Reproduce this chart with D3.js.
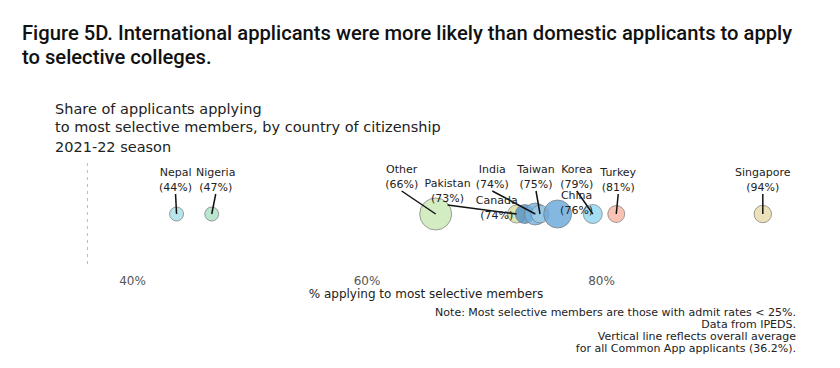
<!DOCTYPE html>
<html>
<head>
<meta charset="utf-8">
<script src="https://cdn.jsdelivr.net/npm/d3@7"></script>
<style>
  body { margin: 0; background: #fff; }
  text { font-family: "DejaVu Sans", sans-serif; fill: #222; }
  .title { font-family: Roboto, sans-serif; font-weight: 500; fill: #111; }
</style>
</head>
<body>
<div id="chart"></div>
<script>
// data
const countries = ['Nepal', 'Nigeria', 'Other', 'Pakistan', 'Canada', 'India', 'Taiwan', 'China', 'Korea', 'Turkey', 'Singapore'];
const shares = [43.8, 46.8, 65.9, 72.8, 73.5, 74.4, 74.8, 76.3, 79.3, 81.3, 93.8];
const sizes = [4.9, 4.9, 25.6, 8.1, 9.0, 12.1, 8.1, 19.6, 9.0, 7.2, 7.6];
const ticks = [40, 60, 80];
const overallAvg = 36.2;

const colors = ['#a6dfe7', '#a9dfc3', '#c9e7b3', '#d6dfa0', '#4f90c9', '#72b1de', '#9acbe6', '#66a6d9', '#8fd6ef', '#f8b3a3', '#e7dba9'];
// label placement (px) relative to each circle
const labelDx = [-1, 4, -34, -69, -28, -43, -4, 19, -16, 2, 0];
const labelDy = [-38, -38, -41, -27, -10, -41, -41, -15, -41, -38, -38];
const leader = [true, true, true, true, false, true, true, false, true, true, true];

const svgWidth = 840, svgHeight = 368;
const svg = d3.select('#chart').append('svg')
  .attr('width', svgWidth)
  .attr('height', svgHeight);

svg.append('text').attr('class', 'title').attr('x', 22).attr('y', 40)
  .style('font-size', '20.2px')
  .text('Figure 5D. International applicants were more likely than domestic applicants to apply');
svg.append('text').attr('class', 'title').attr('x', 22).attr('y', 64)
  .style('font-size', '20.2px')
  .text('to selective colleges.');

svg.append('text').attr('x', 55).attr('y', 114).style('font-size', '14.5px').text('Share of applicants applying');
svg.append('text').attr('x', 55).attr('y', 132).style('font-size', '14.5px').text('to most selective members, by country of citizenship');
svg.append('text').attr('x', 55).attr('y', 152).style('font-size', '14.5px').text('2021-22 season');

const x = d3.scaleLinear().domain([40, 80]).range([132, 601]);
const r = d3.scaleSqrt().domain([0, d3.max(sizes)]).range([0, 16]);
const cy = 214;

// average line
svg.append('line')
  .attr('x1', x(overallAvg)).attr('x2', x(overallAvg))
  .attr('y1', 163).attr('y2', 268)
  .attr('stroke', '#bbb').attr('stroke-width', 1)
  .attr('stroke-dasharray', '3,4');

// axis
const xAxis = svg.append('g').attr('transform', 'translate(0,268)')
  .call(d3.axisBottom(x).tickValues(ticks).tickFormat(d => d + '%').tickSize(0).tickPadding(8));
xAxis.select('.domain').remove();
xAxis.selectAll('text').style('font-family', '"DejaVu Sans", sans-serif')
  .style('font-size', '12px').style('fill', '#555');

svg.append('text').attr('x', 426).attr('y', 298).attr('text-anchor', 'middle')
  .style('font-size', '12px').text('% applying to most selective members');

const data = countries.map((c, i) => ({
  c, v: shares[i], s: sizes[i], col: colors[i], dx: labelDx[i], dy: labelDy[i], line: leader[i]
}));

// circles
svg.selectAll('circle.pt').data(data).enter()
  .append('circle')
  .attr('class', 'pt')
  .attr('cx', d => x(d.v))
  .attr('cy', cy)
  .attr('r', d => r(d.s))
  .attr('fill', d => d.col)
  .attr('fill-opacity', 0.8)
  .attr('stroke', '#777')
  .attr('stroke-opacity', 0.7)
  .attr('stroke-width', 1);

// leader lines
svg.selectAll('line.lead').data(data.filter(d => d.line)).enter()
  .append('line')
  .attr('class', 'lead')
  .attr('x1', d => x(d.v) + d.dx)
  .attr('y1', d => cy + d.dy + 18)
  .attr('x2', d => x(d.v))
  .attr('y2', cy)
  .attr('stroke', '#111')
  .attr('stroke-width', 1.5);

// labels
const lab = svg.selectAll('g.lab').data(data).enter()
  .append('g').attr('class', 'lab')
  .attr('transform', d => 'translate(' + (x(d.v) + d.dx) + ',' + (cy + d.dy) + ')');
lab.append('text').attr('text-anchor', 'middle').attr('y', 0)
  .style('font-size', '11px').text(d => d.c);
lab.append('text').attr('text-anchor', 'middle').attr('y', 15)
  .style('font-size', '11px').text(d => '(' + Math.round(d.v) + '%)');

// notes
const notes = ['Note: Most selective members are those with admit rates < 25%.', 'Data from IPEDS.',
  'Vertical line reflects overall average', 'for all Common App applicants (36.2%).'];
svg.selectAll('text.note').data(notes).enter()
  .append('text').attr('class', 'note')
  .attr('x', 796).attr('y', (d, i) => 316 + i * 12)
  .attr('text-anchor', 'end')
  .style('font-size', '11px')
  .text(d => d);
</script>
</body>
</html>
